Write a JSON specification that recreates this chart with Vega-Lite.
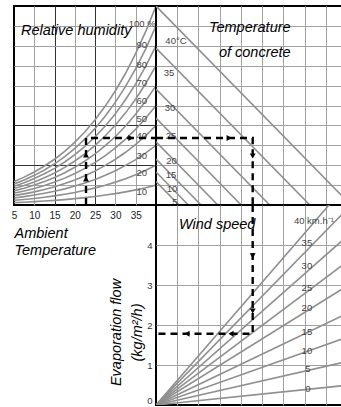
{
  "$schema": "https://vega.github.io/schema/vega-lite/v6.json",
  "padding": {"left": 10, "top": 5, "right": 0, "bottom": 0},
  "columns": 2,
  "spacing": 0,
  "bounds": "flush",
  "config": {
    "font": "Liberation Sans",
    "view": {"stroke": "black", "strokeWidth": 2},
    "axis": {"domain": false, "ticks": false, "labels": false, "title": null, "gridColor": "#a0a0a0", "gridWidth": 1, "labelOverlap": false, "tickCount": 50}
  },
  "datasets": {
    "rh": [
      {"rh":100,"t":5,"vp":1.18},{"rh":100,"t":7.5,"vp":1.4},{"rh":100,"t":10,"vp":1.66},{"rh":100,"t":12.5,"vp":1.96},{"rh":100,"t":15,"vp":2.3},{"rh":100,"t":17.5,"vp":2.7},{"rh":100,"t":20,"vp":3.16},{"rh":100,"t":22.5,"vp":3.68},{"rh":100,"t":25,"vp":4.28},{"rh":100,"t":27.5,"vp":4.97},{"rh":100,"t":30,"vp":5.74},{"rh":100,"t":32.5,"vp":6.62},{"rh":100,"t":35,"vp":7.62},{"rh":100,"t":37.5,"vp":8.74},{"rh":100,"t":40,"vp":10},
      {"rh":90,"t":5,"vp":1.06},{"rh":90,"t":7.5,"vp":1.26},{"rh":90,"t":10,"vp":1.49},{"rh":90,"t":12.5,"vp":1.76},{"rh":90,"t":15,"vp":2.07},{"rh":90,"t":17.5,"vp":2.43},{"rh":90,"t":20,"vp":2.84},{"rh":90,"t":22.5,"vp":3.32},{"rh":90,"t":25,"vp":3.85},{"rh":90,"t":27.5,"vp":4.47},{"rh":90,"t":30,"vp":5.17},{"rh":90,"t":32.5,"vp":5.96},{"rh":90,"t":35,"vp":6.85},{"rh":90,"t":37.5,"vp":7.86},{"rh":90,"t":40,"vp":9},
      {"rh":80,"t":5,"vp":0.94},{"rh":80,"t":7.5,"vp":1.12},{"rh":80,"t":10,"vp":1.33},{"rh":80,"t":12.5,"vp":1.57},{"rh":80,"t":15,"vp":1.84},{"rh":80,"t":17.5,"vp":2.16},{"rh":80,"t":20,"vp":2.53},{"rh":80,"t":22.5,"vp":2.95},{"rh":80,"t":25,"vp":3.43},{"rh":80,"t":27.5,"vp":3.97},{"rh":80,"t":30,"vp":4.59},{"rh":80,"t":32.5,"vp":5.3},{"rh":80,"t":35,"vp":6.09},{"rh":80,"t":37.5,"vp":6.99},{"rh":80,"t":40,"vp":8},
      {"rh":70,"t":5,"vp":0.83},{"rh":70,"t":7.5,"vp":0.98},{"rh":70,"t":10,"vp":1.16},{"rh":70,"t":12.5,"vp":1.37},{"rh":70,"t":15,"vp":1.61},{"rh":70,"t":17.5,"vp":1.89},{"rh":70,"t":20,"vp":2.21},{"rh":70,"t":22.5,"vp":2.58},{"rh":70,"t":25,"vp":3},{"rh":70,"t":27.5,"vp":3.48},{"rh":70,"t":30,"vp":4.02},{"rh":70,"t":32.5,"vp":4.63},{"rh":70,"t":35,"vp":5.33},{"rh":70,"t":37.5,"vp":6.12},{"rh":70,"t":40,"vp":7},
      {"rh":60,"t":5,"vp":0.71},{"rh":60,"t":7.5,"vp":0.84},{"rh":60,"t":10,"vp":1},{"rh":60,"t":12.5,"vp":1.18},{"rh":60,"t":15,"vp":1.38},{"rh":60,"t":17.5,"vp":1.62},{"rh":60,"t":20,"vp":1.9},{"rh":60,"t":22.5,"vp":2.21},{"rh":60,"t":25,"vp":2.57},{"rh":60,"t":27.5,"vp":2.98},{"rh":60,"t":30,"vp":3.44},{"rh":60,"t":32.5,"vp":3.97},{"rh":60,"t":35,"vp":4.57},{"rh":60,"t":37.5,"vp":5.24},{"rh":60,"t":40,"vp":6},
      {"rh":50,"t":5,"vp":0.59},{"rh":50,"t":7.5,"vp":0.7},{"rh":50,"t":10,"vp":0.83},{"rh":50,"t":12.5,"vp":0.98},{"rh":50,"t":15,"vp":1.15},{"rh":50,"t":17.5,"vp":1.35},{"rh":50,"t":20,"vp":1.58},{"rh":50,"t":22.5,"vp":1.84},{"rh":50,"t":25,"vp":2.14},{"rh":50,"t":27.5,"vp":2.48},{"rh":50,"t":30,"vp":2.87},{"rh":50,"t":32.5,"vp":3.31},{"rh":50,"t":35,"vp":3.81},{"rh":50,"t":37.5,"vp":4.37},{"rh":50,"t":40,"vp":5},
      {"rh":40,"t":5,"vp":0.47},{"rh":40,"t":7.5,"vp":0.56},{"rh":40,"t":10,"vp":0.66},{"rh":40,"t":12.5,"vp":0.78},{"rh":40,"t":15,"vp":0.92},{"rh":40,"t":17.5,"vp":1.08},{"rh":40,"t":20,"vp":1.26},{"rh":40,"t":22.5,"vp":1.47},{"rh":40,"t":25,"vp":1.71},{"rh":40,"t":27.5,"vp":1.99},{"rh":40,"t":30,"vp":2.3},{"rh":40,"t":32.5,"vp":2.65},{"rh":40,"t":35,"vp":3.05},{"rh":40,"t":37.5,"vp":3.49},{"rh":40,"t":40,"vp":4},
      {"rh":30,"t":5,"vp":0.35},{"rh":30,"t":7.5,"vp":0.42},{"rh":30,"t":10,"vp":0.5},{"rh":30,"t":12.5,"vp":0.59},{"rh":30,"t":15,"vp":0.69},{"rh":30,"t":17.5,"vp":0.81},{"rh":30,"t":20,"vp":0.95},{"rh":30,"t":22.5,"vp":1.11},{"rh":30,"t":25,"vp":1.28},{"rh":30,"t":27.5,"vp":1.49},{"rh":30,"t":30,"vp":1.72},{"rh":30,"t":32.5,"vp":1.99},{"rh":30,"t":35,"vp":2.28},{"rh":30,"t":37.5,"vp":2.62},{"rh":30,"t":40,"vp":3},
      {"rh":20,"t":5,"vp":0.24},{"rh":20,"t":7.5,"vp":0.28},{"rh":20,"t":10,"vp":0.33},{"rh":20,"t":12.5,"vp":0.39},{"rh":20,"t":15,"vp":0.46},{"rh":20,"t":17.5,"vp":0.54},{"rh":20,"t":20,"vp":0.63},{"rh":20,"t":22.5,"vp":0.74},{"rh":20,"t":25,"vp":0.86},{"rh":20,"t":27.5,"vp":0.99},{"rh":20,"t":30,"vp":1.15},{"rh":20,"t":32.5,"vp":1.32},{"rh":20,"t":35,"vp":1.52},{"rh":20,"t":37.5,"vp":1.75},{"rh":20,"t":40,"vp":2},
      {"rh":10,"t":5,"vp":0.12},{"rh":10,"t":7.5,"vp":0.14},{"rh":10,"t":10,"vp":0.17},{"rh":10,"t":12.5,"vp":0.2},{"rh":10,"t":15,"vp":0.23},{"rh":10,"t":17.5,"vp":0.27},{"rh":10,"t":20,"vp":0.32},{"rh":10,"t":22.5,"vp":0.37},{"rh":10,"t":25,"vp":0.43},{"rh":10,"t":27.5,"vp":0.5},{"rh":10,"t":30,"vp":0.57},{"rh":10,"t":32.5,"vp":0.66},{"rh":10,"t":35,"vp":0.76},{"rh":10,"t":37.5,"vp":0.87},{"rh":10,"t":40,"vp":1}
    ],
    "rhLabels": [
      {"label":"100 %","t":36.6,"vp":9.1},{"label":"90","t":36.5,"vp":8.04},{"label":"80","t":36.5,"vp":7.04},{"label":"70","t":36.5,"vp":6.13},{"label":"60","t":36.5,"vp":5.23},{"label":"50","t":36.5,"vp":4.32},{"label":"40","t":36.5,"vp":3.47},{"label":"30","t":36.5,"vp":2.46},{"label":"20","t":36.5,"vp":1.61},{"label":"10","t":36.5,"vp":0.65}
    ],
    "pathTL": [{"t":22.75,"vp":0,"o":0},{"t":22.75,"vp":3.37,"o":1},{"t":40,"vp":3.37,"o":2}],
    "arrTL": [{"t":22.75,"vp":1.31,"dir":"up"},{"t":22.75,"vp":2.51,"dir":"up"},{"t":33.8,"vp":3.37,"dir":"right"}],
    "conc": [
      {"tc":40,"d":0,"vp":10},{"tc":40,"d":9.17,"vp":0},
      {"tc":35,"d":0,"vp":7.89},{"tc":35,"d":7.24,"vp":0},
      {"tc":30,"d":0,"vp":5.83},{"tc":30,"d":5.35,"vp":0},
      {"tc":25,"d":0,"vp":4.37},{"tc":25,"d":4.01,"vp":0},
      {"tc":20,"d":0,"vp":3.17},{"tc":20,"d":2.91,"vp":0},
      {"tc":15,"d":0,"vp":2.31},{"tc":15,"d":2.12,"vp":0},
      {"tc":10,"d":0,"vp":1.66},{"tc":10,"d":1.52,"vp":0},
      {"tc":5,"d":0,"vp":1.18},{"tc":5,"d":1.08,"vp":0}
    ],
    "concLabels": [
      {"label":"40°C","d":0.94,"vp":8.24},{"label":"35","d":0.61,"vp":6.63},{"label":"30","d":0.66,"vp":4.87},{"label":"25","d":0.71,"vp":3.47},{"label":"20","d":0.73,"vp":2.21},{"label":"15","d":0.71,"vp":1.51},{"label":"10","d":0.75,"vp":0.8},{"label":"5","d":0.89,"vp":0.15}
    ],
    "pathTR": [{"d":0,"vp":3.37,"o":0},{"d":4.55,"vp":3.37,"o":1},{"d":4.55,"vp":0,"o":2}],
    "arrTR": [{"d":3.44,"vp":3.37,"dir":"right"},{"d":4.55,"vp":2.46,"dir":"down"}],
    "titlesTR": [{"label":"Temperature","d":2.49,"vp":8.89},{"label":"of concrete","d":2.96,"vp":7.64}],
    "wind": [
      {"v":0,"d":0,"e":0},{"v":0,"d":8.76,"e":0.48},
      {"v":5,"d":0,"e":0},{"v":5,"d":8.76,"e":1.06},
      {"v":10,"d":0,"e":0},{"v":10,"d":8.76,"e":1.65},
      {"v":15,"d":0,"e":0},{"v":15,"d":8.76,"e":2.23},
      {"v":20,"d":0,"e":0},{"v":20,"d":8.76,"e":2.9},
      {"v":25,"d":0,"e":0},{"v":25,"d":8.76,"e":3.49},
      {"v":30,"d":0,"e":0},{"v":30,"d":8.76,"e":4.11},
      {"v":35,"d":0,"e":0},{"v":35,"d":8.76,"e":4.77},
      {"v":40,"d":0,"e":0},{"v":40,"d":8.76,"e":5.38}
    ],
    "windLabels": [
      {"label":"35","d":7.1,"e":4.05},{"label":"30","d":7.1,"e":3.48},{"label":"25","d":7.1,"e":2.93},{"label":"20","d":7.1,"e":2.43},{"label":"15","d":7.1,"e":1.83},{"label":"10","d":7.1,"e":1.35},{"label":"5","d":7.15,"e":0.9},{"label":"0","d":7.15,"e":0.4}
    ],
    "windTop": [{"label":"40 km.h⁻¹","d":6.49,"e":4.6}],
    "pathBR": [{"d":4.55,"e":5,"o":0},{"d":4.55,"e":1.78,"o":1},{"d":0,"e":1.78,"o":2}],
    "arrBR": [{"d":4.55,"e":3.73,"dir":"down"},{"d":4.55,"e":2.35,"dir":"down"},{"d":3.53,"e":1.78,"dir":"left"},{"d":1.46,"e":1.78,"dir":"left"}]
  },
  "concat": [
    {
      "width": 142,
      "height": 199,
      "layer": [
        {
          "data": {"name": "rh"},
          "mark": {"type": "line", "color": "#8f8f8f", "strokeWidth": 1.6, "clip": true},
          "encoding": {
            "x": {"field": "t", "type": "quantitative", "scale": {"domain": [5, 40], "nice": false, "zero": false},
              "axis": {"values": [5, 10, 15, 20, 25, 30, 35], "tickCount": 50, "format": "d", "grid": true,
                "gridColor": {"condition": {"test": "datum.value === 15 || datum.value === 25", "value": "#333333"}, "value": "#a0a0a0"},
                "gridOpacity": {"condition": {"test": "datum.value === 5", "value": 0}, "value": 1},
                "labels": true, "labelOverlap": false, "labelFlush": false, "labelFontSize": 10, "labelColor": "#222222", "labelPadding": 5,
                "title": ["Ambient", "Temperature"], "titleFontSize": 14.5, "titleFontStyle": "italic", "titleFontWeight": "normal",
                "titleColor": "black", "titleAnchor": "start", "titleAlign": "left", "titleBaseline": "top",
                "titleX": 0, "titleY": 21, "titleLineHeight": 17.5}},
            "y": {"field": "vp", "type": "quantitative", "scale": {"domain": [0, 10], "nice": false, "zero": false},
              "axis": {"values": [1, 2, 3, 4, 5, 6, 7, 8, 9], "tickCount": 50, "grid": true,
                "gridColor": {"condition": {"test": "datum.value === 2 || datum.value === 4", "value": "#333333"}, "value": "#a0a0a0"}}},
            "detail": {"field": "rh", "type": "nominal"}
          }
        },
        {
          "data": {"name": "rhLabels"},
          "mark": {"type": "text", "fontSize": 9.5, "color": "#444444", "align": "center", "baseline": "middle"},
          "encoding": {
            "x": {"field": "t", "type": "quantitative", "scale": {"domain": [5, 40], "nice": false, "zero": false}},
            "y": {"field": "vp", "type": "quantitative", "scale": {"domain": [0, 10], "nice": false, "zero": false}},
            "text": {"field": "label"}
          }
        },
        {
          "data": {"name": "pathTL"},
          "mark": {"type": "line", "color": "black", "strokeWidth": 2.4, "strokeDash": [7, 5]},
          "encoding": {
            "x": {"field": "t", "type": "quantitative"},
            "y": {"field": "vp", "type": "quantitative"},
            "order": {"field": "o"}
          }
        },
        {
          "data": {"name": "arrTL"},
          "mark": {"type": "point", "filled": true, "color": "black", "size": 35, "opacity": 1},
          "encoding": {
            "x": {"field": "t", "type": "quantitative"},
            "y": {"field": "vp", "type": "quantitative"},
            "shape": {"field": "dir", "type": "nominal", "legend": null,
              "scale": {"domain": ["up", "down", "left", "right"], "range": ["triangle-up", "triangle-down", "triangle-left", "triangle-right"]}}
          }
        },
        {
          "data": {"values": [{"label": "Relative humidity", "t": 6.73, "vp": 8.74}]},
          "mark": {"type": "text", "fontSize": 14.5, "fontStyle": "italic", "color": "black", "align": "left", "baseline": "middle"},
          "encoding": {
            "x": {"field": "t", "type": "quantitative"},
            "y": {"field": "vp", "type": "quantitative"},
            "text": {"field": "label"}
          }
        }
      ]
    },
    {
      "width": 186,
      "height": 199,
      "layer": [
        {
          "data": {"name": "conc"},
          "mark": {"type": "line", "color": "#8f8f8f", "strokeWidth": 1.6, "clip": true},
          "encoding": {
            "x": {"field": "d", "type": "quantitative", "scale": {"domain": [0, 8.753], "nice": false, "zero": false},
              "axis": {"values": [1, 2, 3, 4, 5, 6, 7, 8], "tickCount": 50, "grid": true}},
            "y": {"field": "vp", "type": "quantitative", "scale": {"domain": [0, 10], "nice": false, "zero": false},
              "axis": {"values": [1, 2, 3, 4, 5, 6, 7, 8, 9], "tickCount": 50, "grid": true}},
            "detail": {"field": "tc", "type": "nominal"}
          }
        },
        {
          "data": {"name": "concLabels"},
          "mark": {"type": "text", "fontSize": 9.5, "color": "#444444", "align": "center", "baseline": "middle"},
          "encoding": {
            "x": {"field": "d", "type": "quantitative", "scale": {"domain": [0, 8.753], "nice": false, "zero": false}},
            "y": {"field": "vp", "type": "quantitative", "scale": {"domain": [0, 10], "nice": false, "zero": false}},
            "text": {"field": "label"}
          }
        },
        {
          "data": {"name": "pathTR"},
          "mark": {"type": "line", "color": "black", "strokeWidth": 2.4, "strokeDash": [7, 5]},
          "encoding": {
            "x": {"field": "d", "type": "quantitative"},
            "y": {"field": "vp", "type": "quantitative"},
            "order": {"field": "o"}
          }
        },
        {
          "data": {"name": "arrTR"},
          "mark": {"type": "point", "filled": true, "color": "black", "size": 35, "opacity": 1},
          "encoding": {
            "x": {"field": "d", "type": "quantitative"},
            "y": {"field": "vp", "type": "quantitative"},
            "shape": {"field": "dir", "type": "nominal", "legend": null,
              "scale": {"domain": ["up", "down", "left", "right"], "range": ["triangle-up", "triangle-down", "triangle-left", "triangle-right"]}}
          }
        },
        {
          "data": {"name": "titlesTR"},
          "mark": {"type": "text", "fontSize": 14.5, "fontStyle": "italic", "color": "black", "align": "left", "baseline": "middle"},
          "encoding": {
            "x": {"field": "d", "type": "quantitative"},
            "y": {"field": "vp", "type": "quantitative"},
            "text": {"field": "label"}
          }
        }
      ]
    },
    {
      "width": 142,
      "height": 200,
      "view": {"stroke": null},
      "data": {"values": [{"a": 1}]},
      "mark": {"type": "point", "opacity": 0},
      "encoding": {}
    },
    {
      "width": 186,
      "height": 200,
      "layer": [
        {
          "data": {"name": "wind"},
          "mark": {"type": "line", "color": "#8f8f8f", "strokeWidth": 1.6, "clip": true},
          "encoding": {
            "x": {"field": "d", "type": "quantitative", "scale": {"domain": [0, 8.753], "nice": false, "zero": false},
              "axis": {"values": [1, 2, 3, 4, 5, 6, 7, 8], "tickCount": 50, "grid": true}},
            "y": {"field": "e", "type": "quantitative", "scale": {"domain": [0, 5], "nice": false, "zero": false},
              "axis": {"values": [0, 0.5, 1, 1.5, 2, 2.5, 3, 3.5, 4, 4.5], "tickCount": 50, "format": "d", "grid": true,
                "gridOpacity": {"condition": {"test": "datum.value === 0", "value": 0}, "value": 1},
                "labels": true, "labelFlush": true, "labelExpr": "datum.value % 1 === 0 ? datum.label : ''",
                "labelFontSize": 9.5, "labelColor": "#333333", "labelPadding": 4,
                "title": ["Evaporation flow", "(kg/m²/h)"], "titleFontSize": 14.5, "titleFontStyle": "italic", "titleFontWeight": "normal",
                "titleColor": "black", "titleAngle": -90, "titleAlign": "center", "titleBaseline": "bottom",
                "titleX": -33, "titleY": 127, "titleLineHeight": 21}},
            "detail": {"field": "v", "type": "nominal"}
          }
        },
        {
          "data": {"name": "windLabels"},
          "mark": {"type": "text", "fontSize": 9.5, "color": "#444444", "align": "center", "baseline": "middle"},
          "encoding": {
            "x": {"field": "d", "type": "quantitative", "scale": {"domain": [0, 8.753], "nice": false, "zero": false}},
            "y": {"field": "e", "type": "quantitative", "scale": {"domain": [0, 5], "nice": false, "zero": false}},
            "text": {"field": "label"}
          }
        },
        {
          "data": {"name": "windTop"},
          "mark": {"type": "text", "fontSize": 9.5, "color": "#444444", "align": "left", "baseline": "middle"},
          "encoding": {
            "x": {"field": "d", "type": "quantitative"},
            "y": {"field": "e", "type": "quantitative"},
            "text": {"field": "label"}
          }
        },
        {
          "data": {"name": "pathBR"},
          "mark": {"type": "line", "color": "black", "strokeWidth": 2.4, "strokeDash": [7, 5]},
          "encoding": {
            "x": {"field": "d", "type": "quantitative"},
            "y": {"field": "e", "type": "quantitative"},
            "order": {"field": "o"}
          }
        },
        {
          "data": {"name": "arrBR"},
          "mark": {"type": "point", "filled": true, "color": "black", "size": 35, "opacity": 1},
          "encoding": {
            "x": {"field": "d", "type": "quantitative"},
            "y": {"field": "e", "type": "quantitative"},
            "shape": {"field": "dir", "type": "nominal", "legend": null,
              "scale": {"domain": ["up", "down", "left", "right"], "range": ["triangle-up", "triangle-down", "triangle-left", "triangle-right"]}}
          }
        },
        {
          "data": {"values": [{"label": "Wind speed", "d": 1.08, "e": 4.5}]},
          "mark": {"type": "text", "fontSize": 14.5, "fontStyle": "italic", "color": "black", "align": "left", "baseline": "middle"},
          "encoding": {
            "x": {"field": "d", "type": "quantitative"},
            "y": {"field": "e", "type": "quantitative"},
            "text": {"field": "label"}
          }
        }
      ]
    }
  ]
}
